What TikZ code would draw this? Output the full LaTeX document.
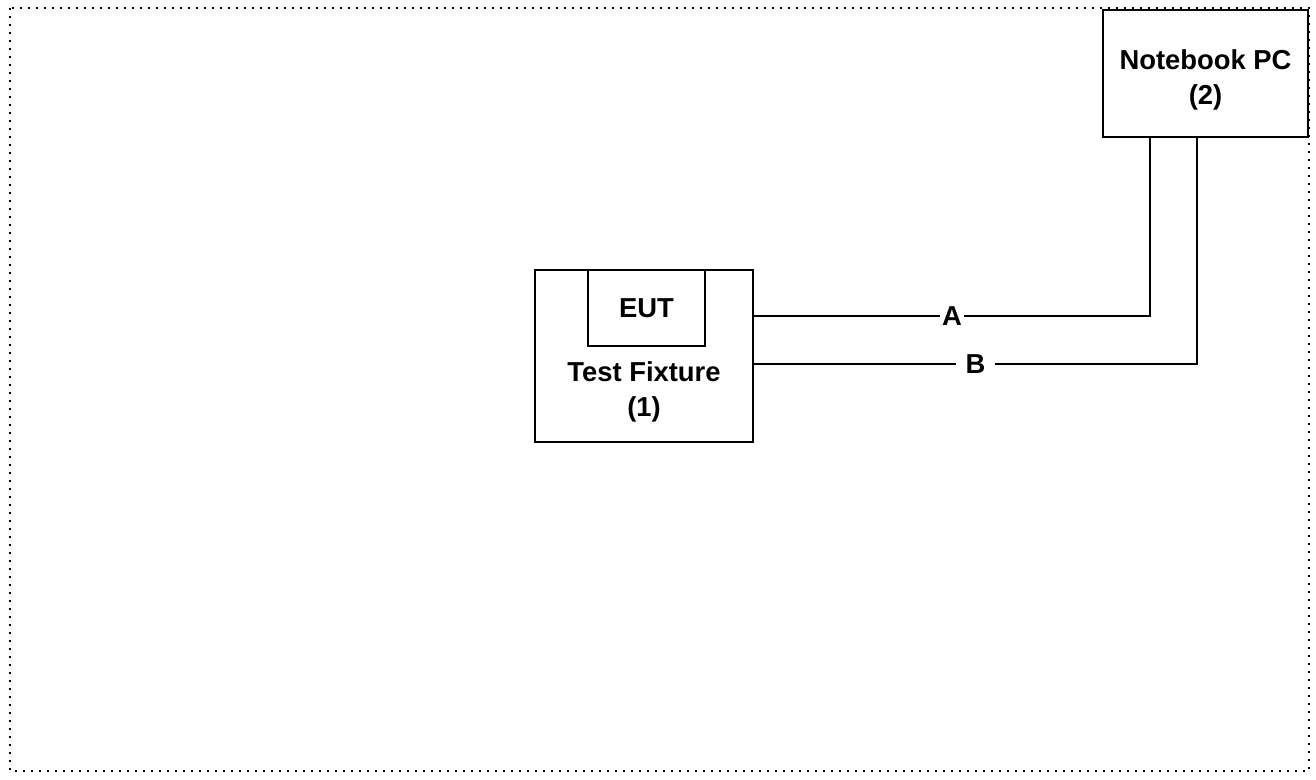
\documentclass[tikz,border=0pt]{standalone}
\usepackage{fontspec}
\setmainfont{Liberation Sans}
\usetikzlibrary{positioning}
\tikzset{
  box/.style={draw, line width=1pt, inner sep=0pt},
  lbl/.style={font=\fontsize{13.7}{17.5}\selectfont\bfseries, align=center},
  cable/.style={line width=1pt},
}
\begin{document}
\begin{tikzpicture}[x=0.5pt, y=-0.5pt]
    \useasboundingbox (0,0) rectangle (1316,780);
    \draw[line width=1.1pt, dash pattern=on 1.1pt off 2.9pt] (10,8) rectangle (1309,771);

    \node[box, minimum width=109pt, minimum height=86pt] (fixture) at (644,356) {};
    \node[box, minimum width=58.5pt, minimum height=38pt, lbl] (eut) at (646.5,308) {EUT};
    \node[lbl] (fixturetext) at (644,392) {Test Fixture\\(1)};
    \node[box, minimum width=102.5pt, minimum height=63.5pt] (pc) at (1205.5,73.5) {};
    \node[lbl] (pctext) at (1205.5,79.5) {Notebook PC\\(2)};

    % Cables between fixture and notebook
    \draw[cable] (fixture.east |- 0,316) -| node[pos=0.25, fill=white, inner sep=1pt, lbl] {A} (pc.south -| 1150,0);
    \draw[cable] (fixture.east |- 0,364) -| node[pos=0.25, fill=white, inner sep=5pt, lbl] {B} (pc.south -| 1197,0);
\end{tikzpicture}
\end{document}
